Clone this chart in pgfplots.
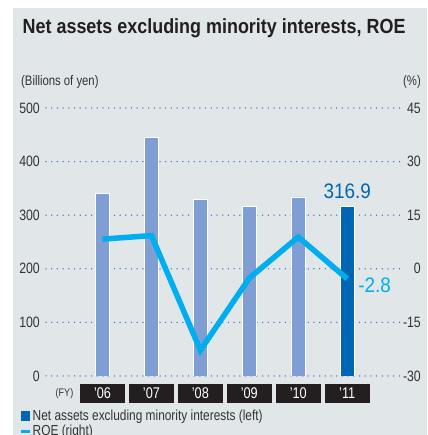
\documentclass[border=0pt]{standalone}
\usepackage{pgfplots}
\pgfplotsset{compat=1.18}
\usepackage{pgfplotstable}
\usepackage{fontspec}
\setmainfont{Liberation Sans}[FakeStretch=0.82]
\newfontfamily\bigfont{Liberation Sans}[FakeStretch=0.9]
\newfontfamily\titlefont{Liberation Sans}[FakeStretch=0.875]

\definecolor{bgray}{HTML}{E1E6E9}
\definecolor{barlight}{HTML}{7F9ED3}
\definecolor{bardark}{HTML}{0066B3}
\definecolor{roecyan}{HTML}{00AEEF}
\definecolor{gridblue}{HTML}{3F78C0}
\definecolor{txt}{HTML}{333333}
\definecolor{boxblack}{HTML}{231F20}

% net assets, billions of yen (FY06-FY10; FY11 highlighted separately)
\pgfplotstableread{
idx value
0 341
1 445
2 330
3 317
4 334
}\assets

% ROE, %
\pgfplotstableread{
idx roe
0 8.3
1 9.3
2 -22.8
3 -2.6
4 8.9
5 -2.8
}\roe

\begin{document}
\begin{tikzpicture}[x=1pt,y=1pt]
\clip (0,0) rectangle (427,435);
\fill[bgray] (13,0) rectangle (427,427);
\node[anchor=base west, inner sep=0, text=boxblack,
  font=\titlefont\bfseries\fontsize{20.5}{24}\selectfont] at (22.5,401.7)
  {Net assets excluding minority interests, ROE};
\node[anchor=base west, inner sep=0, text=txt, font=\fontsize{13.8}{15}\selectfont]
  at (21,349) {(Billions of yen)};
\node[anchor=base east, inner sep=0, text=txt, font=\fontsize{13.8}{15}\selectfont]
  at (421,349) {(\%)};
\node[anchor=center, inner sep=0, text=txt, font=\fontsize{11}{12}\selectfont]
  at (64.5,41.5) {(FY)};

\begin{axis}[
  at={(46pt,59pt)}, anchor=south west, scale only axis,
  width=356pt, height=268pt,
  xmin=-1.155, xmax=6.12, ymin=0, ymax=500,
  xtick={0,...,5},
  xticklabels={’06,’07,’08,’09,’10,’11},
  ytick={0,100,...,500},
  axis line style={draw=none}, major tick length=0pt,
  ymajorgrids,
  grid style={gridblue, line width=1.5pt, line cap=round, dash pattern=on 0pt off 5.7pt},
  /pgf/number format/assume math mode=true,
  yticklabel style={anchor=east, inner sep=0pt, xshift=-6pt, text=txt,
    font=\fontsize{15}{15}\selectfont},
  xticklabel style={anchor=center, yshift=-17.5pt, fill=boxblack, text=white,
    minimum width=45pt, minimum height=19pt, inner sep=0pt,
    font=\fontsize{15.5}{15}\selectfont},
]
\addplot[ybar, bar shift=0pt, bar width=14pt, fill=barlight, draw=white, line width=0.6pt]
  table[x=idx, y=value] {\assets};
\addplot[ybar, bar shift=0pt, bar width=14pt, fill=bardark, draw=white, line width=0.6pt]
  coordinates {(5,316.9)};
\node[anchor=base, inner sep=0pt, yshift=8pt, text=bardark,
  font=\bigfont\fontsize{21}{21}\selectfont] at (axis cs:5,316.9) {316.9};
\end{axis}

\begin{axis}[
  at={(46pt,59pt)}, anchor=south west, scale only axis,
  width=356pt, height=268pt,
  xmin=-1.155, xmax=6.12, ymin=-30, ymax=45,
  hide x axis,
  ytick={-30,-15,...,45},
  yticklabel pos=right,
  axis line style={draw=none}, major tick length=0pt,
  /pgf/number format/assume math mode=true,
  yticklabel style={anchor=east, inner sep=0pt, xshift=19pt, text=txt,
    font=\fontsize{15}{15}\selectfont},
  legend style={at={(-0.0758,-0.119)}, anchor=north west, draw=none, fill=none,
    inner sep=0pt, row sep=0.5pt, font=\fontsize{14.5}{15}\selectfont,
    nodes={inner sep=1.5pt, text=txt}},
  legend cell align=left,
]
\addlegendimage{legend image code/.code={\fill[bardark] (0pt,-4.5pt) rectangle (8pt,4.5pt);}}
\addlegendentry{Net assets excluding minority interests (left)}
\addplot[roecyan, line width=5.5pt, line join=miter, mark=none,
  legend image code/.code={\draw[roecyan, line width=3pt] (0pt,0pt) -- (9pt,0pt);}]
  table[x=idx, y=roe] {\roe};
\addlegendentry{ROE (right)}
\node[anchor=west, inner sep=0pt, xshift=11pt, yshift=-6pt, text=roecyan,
  font=\bigfont\fontsize{21}{21}\selectfont] at (axis cs:5,-2.8) {-2.8};
\end{axis}
\end{tikzpicture}
\end{document}
